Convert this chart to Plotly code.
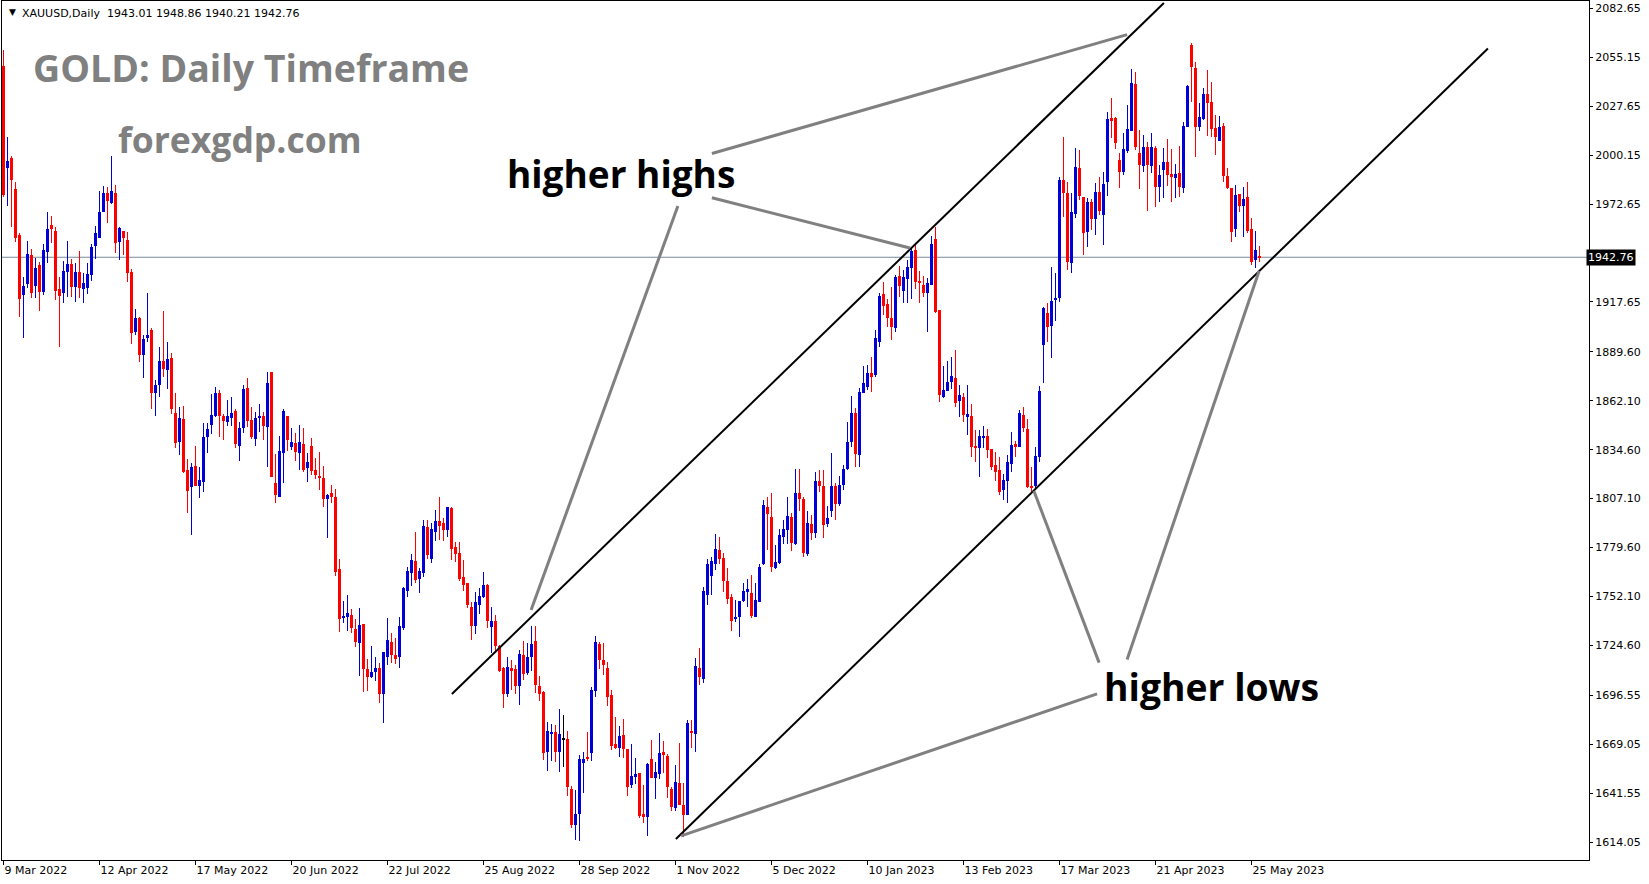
import plotly.graph_objects as go

# ---------------- data ----------------
tick_labels = ["9 Mar 2022", "12 Apr 2022", "17 May 2022", "20 Jun 2022", "22 Jul 2022",
               "25 Aug 2022", "28 Sep 2022", "1 Nov 2022", "5 Dec 2022", "10 Jan 2023",
               "13 Feb 2023", "17 Mar 2023", "21 Apr 2023", "25 May 2023"]
tick_index = [0, 24, 48, 72, 96, 120, 144, 168, 192, 216, 240, 264, 288, 312]

open_ = [2050.3, 1992.7, 1998.4, 1981.1, 1955.3, 1921.5, 1927.7, 1944.0, 1926.8, 1938.6,
         1923.0, 1945.9, 1960.7, 1957.3, 1924.7, 1922.5, 1934.7, 1939.0, 1925.9, 1934.7,
         1924.9, 1925.3, 1932.8, 1949.1, 1953.8, 1968.0, 1978.7, 1973.4, 1979.1, 1951.5,
         1957.3, 1952.5, 1934.7, 1900.9, 1908.4, 1887.8, 1897.2, 1901.9, 1866.3, 1871.0,
         1884.6, 1879.4, 1886.0, 1855.0, 1839.1, 1851.8, 1823.2, 1813.8, 1825.4, 1814.2,
         1816.6, 1841.9, 1848.5, 1853.5, 1866.6, 1853.5, 1850.2, 1852.2, 1856.3, 1836.7,
         1846.6, 1869.1, 1851.3, 1840.8, 1852.6, 1853.5, 1847.5, 1878.1, 1815.7, 1808.2,
         1833.0, 1853.5, 1836.3, 1838.5, 1832.9, 1837.8, 1824.1, 1836.7, 1823.2, 1819.8,
         1818.9, 1807.1, 1810.1, 1808.0, 1767.5, 1740.5, 1740.7, 1741.7, 1733.8, 1726.1,
         1736.6, 1711.1, 1707.0, 1709.8, 1711.7, 1697.1, 1718.3, 1726.3, 1719.2, 1717.9,
         1734.2, 1755.3, 1765.5, 1772.0, 1761.9, 1765.1, 1791.3, 1773.2, 1788.5, 1794.5,
         1793.6, 1789.5, 1801.6, 1779.7, 1776.7, 1763.2, 1759.8, 1746.3, 1735.5, 1747.3,
         1751.6, 1758.5, 1735.1, 1738.3, 1724.2, 1711.7, 1697.3, 1711.7, 1711.1, 1701.8,
         1719.2, 1708.9, 1718.3, 1727.0, 1701.7, 1698.5, 1664.8, 1674.6, 1676.1, 1664.8,
         1671.8, 1671.8, 1643.7, 1623.6, 1629.8, 1658.6, 1662.0, 1664.3, 1699.1, 1725.3,
         1716.4, 1711.7, 1696.7, 1669.1, 1666.7, 1674.2, 1666.1, 1646.1, 1650.8, 1653.0,
         1629.8, 1628.3, 1660.5, 1649.8, 1652.3, 1664.8, 1662.4, 1643.7, 1633.0, 1647.0,
         1634.9, 1629.5, 1676.1, 1674.5, 1711.7, 1705.7, 1752.9, 1763.6, 1770.4, 1778.2,
         1773.6, 1761.0, 1751.6, 1739.9, 1740.4, 1749.8, 1754.8, 1753.9, 1740.8, 1749.2,
         1770.4, 1802.6, 1797.0, 1767.9, 1770.7, 1785.7, 1789.5, 1797.0, 1781.6, 1810.0,
         1807.0, 1776.0, 1792.9, 1787.6, 1817.0, 1814.0, 1792.8, 1800.0, 1814.0, 1804.0,
         1815.0, 1824.0, 1839.0, 1855.0, 1831.6, 1866.3, 1870.0, 1877.9, 1876.6, 1895.3,
         1922.1, 1916.5, 1908.4, 1903.2, 1932.2, 1924.0, 1930.5, 1936.5, 1946.8, 1929.6,
         1927.2, 1922.5, 1927.2, 1952.8, 1913.1, 1864.4, 1867.8, 1872.8, 1874.7, 1862.1,
         1864.4, 1853.5, 1853.5, 1836.7, 1835.4, 1841.2, 1842.3, 1834.8, 1826.0, 1823.2,
         1811.9, 1817.2, 1826.6, 1837.8, 1836.3, 1854.1, 1846.0, 1814.2, 1814.2, 1830.7,
         1893.4, 1911.6, 1904.1, 1919.1, 1919.7, 1986.2, 1978.7, 1939.7, 1967.1, 1992.7,
         1976.8, 1957.1, 1974.0, 1964.1, 1979.6, 1966.5, 1985.2, 2020.9, 2020.9, 1997.4,
         1990.9, 2002.7, 2013.9, 2040.1, 2001.2, 1994.1, 2004.9, 1994.1, 2004.0, 1982.4,
         1991.8, 1996.5, 1989.6, 1987.1, 1989.9, 1981.5, 2015.8, 2062.1, 2048.9, 2015.8,
         2020.3, 2034.5, 2030.2, 2015.2, 2008.3, 2016.5, 1988.4, 1981.5, 1958.4, 1978.3,
         1971.6, 1976.4, 1958.4, 1941.2, 1943.01]

high = [2059.3, 2010.2, 1999.9, 1984.9, 1956.2, 1931.8, 1951.9, 1947.4, 1942.5, 1940.3,
        1950.2, 1968.0, 1966.0, 1960.0, 1931.5, 1940.8, 1951.9, 1941.6, 1939.3, 1946.3,
        1933.7, 1939.7, 1950.2, 1960.3, 1980.2, 1983.0, 1982.1, 1999.7, 1983.5, 1960.0,
        1957.7, 1957.1, 1936.2, 1913.7, 1909.4, 1899.1, 1922.5, 1902.8, 1873.8, 1892.5,
        1912.5, 1895.3, 1888.8, 1866.3, 1858.8, 1859.1, 1829.2, 1827.3, 1836.7, 1825.1,
        1849.8, 1849.8, 1865.9, 1870.0, 1868.1, 1854.7, 1862.5, 1864.0, 1857.3, 1850.3,
        1871.0, 1874.7, 1858.8, 1856.0, 1860.3, 1856.0, 1878.5, 1878.5, 1832.2, 1842.3,
        1857.3, 1853.5, 1846.6, 1843.8, 1848.5, 1846.6, 1832.9, 1841.0, 1829.8, 1833.5,
        1825.4, 1809.7, 1814.8, 1812.3, 1773.2, 1749.5, 1752.9, 1744.9, 1739.2, 1745.4,
        1736.6, 1716.7, 1724.2, 1718.3, 1714.5, 1721.1, 1739.8, 1731.4, 1728.6, 1740.7,
        1757.2, 1768.5, 1775.8, 1788.1, 1767.9, 1795.1, 1795.1, 1793.2, 1800.7, 1808.2,
        1796.0, 1802.6, 1802.6, 1782.9, 1782.9, 1772.6, 1759.8, 1749.2, 1754.8, 1756.7,
        1766.0, 1758.9, 1746.4, 1741.7, 1724.8, 1712.3, 1718.3, 1716.4, 1713.6, 1722.0,
        1727.0, 1725.7, 1735.3, 1735.5, 1707.4, 1698.9, 1681.7, 1680.2, 1679.8, 1688.8,
        1685.4, 1676.4, 1645.5, 1643.3, 1662.9, 1664.8, 1675.7, 1701.4, 1729.8, 1726.7,
        1726.1, 1715.4, 1699.5, 1684.5, 1679.3, 1683.0, 1666.1, 1669.1, 1661.1, 1653.0,
        1646.1, 1658.3, 1671.4, 1659.2, 1675.1, 1671.0, 1663.5, 1645.2, 1657.3, 1669.5,
        1647.1, 1682.6, 1682.6, 1717.4, 1723.0, 1757.3, 1773.0, 1774.5, 1787.2, 1785.7,
        1776.4, 1767.9, 1753.5, 1750.1, 1749.8, 1759.5, 1761.8, 1764.2, 1759.5, 1770.4,
        1806.5, 1808.0, 1810.0, 1781.0, 1790.0, 1795.1, 1808.0, 1798.9, 1824.0, 1824.0,
        1808.0, 1800.0, 1798.0, 1822.0, 1823.0, 1823.0, 1803.0, 1833.0, 1816.0, 1820.0,
        1826.0, 1850.0, 1865.0, 1858.0, 1869.0, 1881.6, 1882.2, 1886.5, 1901.9, 1922.5,
        1929.0, 1919.1, 1925.8, 1932.8, 1937.8, 1935.6, 1941.2, 1948.7, 1949.6, 1935.2,
        1932.2, 1930.9, 1954.7, 1959.9, 1913.1, 1881.6, 1884.6, 1886.9, 1890.6, 1870.9,
        1866.6, 1870.9, 1860.3, 1845.7, 1845.7, 1847.9, 1846.0, 1834.9, 1833.5, 1830.7,
        1820.9, 1831.6, 1844.7, 1839.7, 1856.9, 1858.8, 1851.6, 1825.1, 1835.9, 1870.4,
        1915.0, 1916.9, 1937.5, 1934.1, 1988.1, 2010.2, 1985.2, 1978.7, 2004.0, 2003.0,
        1976.8, 1975.9, 1975.3, 1984.3, 1988.1, 1990.9, 2024.6, 2032.1, 2021.8, 2001.2,
        2012.4, 2028.4, 2048.4, 2047.1, 2014.3, 2011.5, 2007.7, 2012.4, 2005.3, 1994.6,
        2004.0, 2009.0, 2003.4, 1995.2, 2005.3, 2019.0, 2039.6, 2063.0, 2052.7, 2029.3,
        2037.7, 2048.0, 2041.5, 2022.7, 2022.2, 2018.0, 1992.7, 1981.9, 1983.4, 1978.3,
        1982.4, 1985.2, 1964.6, 1957.7, 1948.86]

low = [1976.8, 1971.6, 1960.0, 1951.1, 1909.4, 1897.2, 1925.3, 1919.7, 1919.7, 1912.7,
       1921.5, 1939.3, 1950.6, 1918.7, 1892.1, 1917.2, 1920.6, 1920.6, 1917.4, 1919.7,
       1916.9, 1921.9, 1929.6, 1941.6, 1953.4, 1968.0, 1961.8, 1972.7, 1945.3, 1941.2,
       1944.0, 1929.0, 1894.0, 1899.1, 1884.1, 1874.7, 1895.3, 1857.3, 1853.5, 1864.4,
       1875.3, 1868.5, 1854.7, 1835.4, 1831.6, 1821.7, 1799.2, 1786.6, 1814.2, 1807.6,
       1811.0, 1832.5, 1843.4, 1852.8, 1841.9, 1840.0, 1847.9, 1847.9, 1835.4, 1828.4,
       1844.2, 1847.5, 1840.8, 1836.7, 1844.7, 1840.0, 1825.0, 1819.0, 1804.8, 1807.8,
       1815.7, 1833.9, 1834.4, 1828.4, 1823.2, 1822.2, 1816.6, 1820.4, 1817.9, 1812.0,
       1802.6, 1784.8, 1804.4, 1763.6, 1732.3, 1737.0, 1732.9, 1731.4, 1723.5, 1707.4,
       1698.2, 1699.1, 1706.1, 1704.8, 1692.4, 1681.2, 1713.6, 1714.5, 1714.1, 1711.7,
       1733.2, 1752.0, 1758.0, 1759.9, 1754.2, 1763.2, 1773.0, 1771.1, 1783.5, 1783.8,
       1783.5, 1785.3, 1772.6, 1771.6, 1761.0, 1755.3, 1745.8, 1727.6, 1731.0, 1742.2,
       1751.0, 1734.2, 1720.5, 1720.1, 1709.8, 1689.2, 1695.4, 1699.5, 1697.3, 1691.1,
       1705.0, 1708.0, 1710.0, 1697.6, 1693.5, 1660.1, 1654.1, 1659.8, 1659.2, 1653.6,
       1656.0, 1639.9, 1621.7, 1615.2, 1614.8, 1641.8, 1659.8, 1659.8, 1695.4, 1711.1,
       1707.9, 1690.5, 1665.8, 1666.1, 1661.6, 1661.1, 1639.9, 1644.2, 1646.6, 1627.4,
       1624.9, 1617.4, 1649.8, 1638.0, 1649.3, 1652.6, 1638.6, 1631.7, 1631.7, 1634.9,
       1617.1, 1629.2, 1667.0, 1664.9, 1702.4, 1703.7, 1747.3, 1752.9, 1767.0, 1770.4,
       1754.8, 1747.9, 1732.9, 1738.0, 1729.1, 1749.2, 1746.4, 1739.8, 1740.4, 1749.2,
       1769.8, 1778.2, 1766.0, 1767.4, 1770.4, 1781.6, 1781.6, 1777.9, 1781.0, 1800.0,
       1774.1, 1775.0, 1784.0, 1785.0, 1811.0, 1785.0, 1791.0, 1797.0, 1795.0, 1803.0,
       1812.0, 1823.0, 1836.0, 1825.0, 1825.0, 1866.3, 1868.1, 1867.2, 1875.6, 1892.1,
       1910.3, 1903.8, 1896.3, 1900.9, 1920.6, 1916.9, 1917.2, 1919.1, 1924.7, 1916.9,
       1920.6, 1900.9, 1927.2, 1911.3, 1861.6, 1863.5, 1867.8, 1868.5, 1858.8, 1852.8,
       1850.3, 1842.9, 1830.7, 1827.9, 1819.1, 1835.4, 1829.7, 1823.2, 1817.2, 1809.1,
       1806.3, 1804.4, 1822.2, 1830.7, 1835.9, 1844.7, 1812.9, 1810.4, 1811.9, 1827.9,
       1871.9, 1895.3, 1885.9, 1907.1, 1917.8, 1965.6, 1935.6, 1934.1, 1964.6, 1974.9,
       1944.0, 1948.7, 1958.1, 1955.3, 1966.5, 1949.6, 1977.2, 2009.6, 2003.4, 1981.5,
       1989.0, 2001.2, 2013.9, 2003.0, 1980.9, 1990.9, 1968.9, 1990.3, 1971.2, 1974.0,
       1975.9, 1982.8, 1974.0, 1975.9, 1976.8, 1978.7, 2015.8, 2030.2, 1999.3, 2013.9,
       2019.9, 2010.9, 2010.5, 2000.2, 2008.3, 1985.2, 1980.9, 1951.5, 1954.0, 1968.4,
       1954.0, 1956.6, 1938.4, 1936.5, 1940.21]

close = [1977.8, 1997.0, 1986.2, 1953.4, 1919.3, 1926.8, 1944.6, 1922.5, 1936.9, 1923.0,
         1946.8, 1958.5, 1958.5, 1923.8, 1921.2, 1935.2, 1939.2, 1925.9, 1934.7, 1925.3,
         1928.1, 1933.3, 1948.5, 1956.6, 1968.0, 1979.1, 1974.2, 1980.2, 1950.6, 1959.2,
         1953.4, 1933.7, 1900.0, 1908.4, 1887.8, 1896.8, 1899.1, 1866.3, 1871.0, 1884.6,
         1879.8, 1885.4, 1857.3, 1838.5, 1852.2, 1821.9, 1811.6, 1825.1, 1814.4, 1817.5,
         1841.9, 1846.0, 1854.1, 1866.6, 1853.5, 1850.9, 1853.5, 1855.4, 1837.8, 1846.6,
         1868.5, 1850.9, 1841.9, 1852.2, 1853.2, 1847.9, 1872.3, 1819.0, 1809.1, 1833.9,
         1856.5, 1840.0, 1839.1, 1833.5, 1839.1, 1823.2, 1827.9, 1822.8, 1820.4, 1818.5,
         1807.1, 1809.1, 1807.8, 1766.0, 1739.2, 1740.7, 1742.6, 1734.2, 1726.7, 1736.0,
         1711.1, 1707.0, 1709.4, 1711.7, 1697.1, 1720.7, 1727.6, 1719.2, 1717.0, 1735.5,
         1756.7, 1766.4, 1772.6, 1761.3, 1766.4, 1791.7, 1775.4, 1790.0, 1794.5, 1791.9,
         1789.5, 1802.2, 1778.6, 1776.0, 1761.9, 1758.5, 1747.3, 1735.5, 1749.2, 1752.4,
         1758.5, 1738.3, 1738.3, 1724.2, 1710.4, 1697.3, 1712.3, 1710.4, 1701.8, 1719.8,
         1708.7, 1718.3, 1725.4, 1702.5, 1697.2, 1664.3, 1676.4, 1676.1, 1664.8, 1674.8,
         1671.8, 1645.2, 1623.6, 1629.8, 1660.7, 1660.7, 1660.5, 1699.5, 1726.7, 1716.4,
         1713.5, 1695.4, 1668.0, 1666.7, 1673.6, 1666.1, 1644.8, 1651.2, 1652.3, 1628.7,
         1628.3, 1657.9, 1649.8, 1653.6, 1663.9, 1663.0, 1645.2, 1633.9, 1648.0, 1634.9,
         1629.5, 1680.8, 1675.5, 1713.0, 1707.0, 1755.4, 1770.4, 1772.2, 1778.6, 1773.0,
         1761.0, 1750.5, 1738.5, 1740.8, 1749.8, 1755.4, 1756.1, 1741.1, 1750.1, 1768.9,
         1803.5, 1798.5, 1768.9, 1771.7, 1786.7, 1789.9, 1797.4, 1782.0, 1810.0, 1807.0,
         1776.4, 1793.6, 1787.6, 1817.0, 1814.0, 1792.3, 1796.0, 1814.0, 1804.0, 1815.0,
         1824.0, 1839.0, 1855.0, 1832.0, 1867.2, 1871.9, 1877.9, 1875.6, 1897.2, 1921.0,
         1915.4, 1908.4, 1903.8, 1931.5, 1926.6, 1931.5, 1937.5, 1946.5, 1929.0, 1928.5,
         1922.9, 1928.5, 1950.2, 1912.2, 1865.3, 1868.1, 1872.8, 1876.0, 1861.0, 1865.3,
         1854.1, 1854.6, 1836.3, 1835.9, 1842.3, 1841.9, 1834.4, 1825.0, 1822.2, 1811.0,
         1817.5, 1827.9, 1837.2, 1835.9, 1855.0, 1846.6, 1813.4, 1813.4, 1831.1, 1867.8,
         1914.0, 1903.7, 1918.4, 1920.1, 1986.2, 1978.7, 1940.3, 1968.4, 1993.7, 1977.2,
         1956.2, 1974.0, 1964.1, 1979.6, 1968.9, 1983.9, 2020.5, 2019.9, 2007.2, 1990.9,
         2003.4, 2014.7, 2040.5, 2004.6, 1994.6, 2004.6, 1994.6, 2004.6, 1982.4, 1989.0,
         1996.5, 1989.0, 1987.7, 1989.6, 1982.4, 2016.5, 2039.0, 2049.5, 2015.8, 2021.4,
         2034.5, 2029.6, 2014.7, 2010.5, 2015.8, 1988.4, 1981.5, 1957.1, 1977.8, 1971.6,
         1975.3, 1957.7, 1940.3, 1946.8, 1942.76]

price_ticks = [2082.65, 2055.15, 2027.65, 2000.15, 1972.65, 1917.65, 1889.60, 1862.10,
               1834.60, 1807.10, 1779.60, 1752.10, 1724.60, 1696.55, 1669.05, 1641.55, 1614.05]
last_price = 1942.76
header_text = "XAUUSD,Daily  1943.01 1948.86 1940.21 1942.76"

# trend channel lines (bar index, price)
upper_channel = [(112.1, 1697.25), (290.1, 2085.7)]
lower_channel = [(168.1, 1615.75), (371.1, 2060.1)]
# grey pointer lines (bar index, price)
pointers = [
    [(177.1, 2001.1), (280.9, 2067.9)],
    [(177.1, 1976.2), (226.6, 1948.0)],
    [(168.6, 1971.6), (131.9, 1744.5)],
    [(273.9, 1714.9), (257.6, 1811.4)],
    [(280.9, 1716.7), (313.9, 1935.0)],
    [(273.4, 1697.3), (169.4, 1617.5)],
]

# ---------------- figure ----------------
n = len(open_)
idx = list(range(n))
UP, DOWN, FLAT = "#0000D8", "#FF0000", "#000000"
colors = [UP if c > o else (DOWN if c < o else FLAT) for o, c in zip(open_, close)]

fig = go.Figure()
# wicks
fig.add_trace(go.Bar(x=idx, base=low, y=[h - l for h, l in zip(high, low)],
                     width=0.25, marker=dict(color=colors, line=dict(width=0)),
                     hoverinfo="skip"))
# bodies
fig.add_trace(go.Bar(x=idx, base=[min(o, c) for o, c in zip(open_, close)],
                     y=[max(abs(c - o), 0.56) for o, c in zip(open_, close)],
                     width=0.75, marker=dict(color=colors, line=dict(width=0)),
                     hoverinfo="skip"))

L, T, W, H = 2, 1, 1587, 859
def px(x):
    return (x - L) / W
def py(y):
    return 1 - (y - T) / H

shapes = []
shapes.append(dict(type="line", xref="paper", yref="y", x0=0, x1=1, y0=last_price, y1=last_price,
                   line=dict(color="#7a8a9a", width=1), layer="below"))
for seg in (upper_channel, lower_channel):
    shapes.append(dict(type="line", xref="x", yref="y", x0=seg[0][0], y0=seg[0][1],
                       x1=seg[1][0], y1=seg[1][1], line=dict(color="black", width=2)))
for seg in pointers:
    shapes.append(dict(type="line", xref="x", yref="y", x0=seg[0][0], y0=seg[0][1],
                       x1=seg[1][0], y1=seg[1][1], line=dict(color="#808080", width=3)))

annotations = [
    dict(text="▼", x=px(7), y=py(12), xref="paper", yref="paper", xanchor="left", yanchor="middle",
         showarrow=False, font=dict(family="DejaVu Sans", size=9, color="black")),
    dict(text=header_text, x=px(20), y=py(13), xref="paper", yref="paper", xanchor="left",
         yanchor="middle", showarrow=False, font=dict(family="DejaVu Sans", size=11, color="black")),
    dict(text="<b>GOLD: Daily Timeframe</b>", x=px(31), y=py(67), xref="paper", yref="paper",
         xanchor="left", yanchor="middle", showarrow=False,
         font=dict(family="Open Sans", size=37.5, color="#808080")),
    dict(text="<b>forexgdp.com</b>", x=px(116), y=py(139), xref="paper", yref="paper",
         xanchor="left", yanchor="middle", showarrow=False,
         font=dict(family="Open Sans", size=35.5, color="#808080")),
    dict(text="<b>higher highs</b>", x=px(505), y=py(173), xref="paper", yref="paper",
         xanchor="left", yanchor="middle", showarrow=False,
         font=dict(family="Open Sans", size=37, color="black")),
    dict(text="<b>higher lows</b>", x=px(1102), y=py(686), xref="paper", yref="paper",
         xanchor="left", yanchor="middle", showarrow=False,
         font=dict(family="Open Sans", size=37.3, color="black")),
    dict(text="%.2f" % last_price, x=1, y=last_price, xref="paper", yref="y", xanchor="left",
         yanchor="middle", xshift=-3, showarrow=False, bgcolor="black", borderpad=1,
         font=dict(family="DejaVu Sans", size=11, color="white")),
]

fig.update_layout(
    width=1649, height=884,
    margin=dict(l=L, r=1649 - L - W, t=T, b=884 - T - H),
    plot_bgcolor="white", paper_bgcolor="white",
    showlegend=False, barmode="overlay", bargap=0,
    shapes=shapes, annotations=annotations,
    xaxis=dict(range=[-0.375, 396.375], tickvals=tick_index, ticktext=tick_labels,
               ticks="outside", ticklen=4, tickcolor="black", showline=True, linecolor="black",
               linewidth=1, mirror=True, showgrid=False, zeroline=False,
               ticklabelposition="outside right",
               tickfont=dict(family="DejaVu Sans", size=11, color="black")),
    yaxis=dict(side="right", range=[1603.95, 2086.81], tickvals=price_ticks,
               ticktext=["%.2f" % v for v in price_ticks], ticks="outside", ticklen=3,
               tickcolor="black", showline=True, linecolor="black", linewidth=1, mirror=True,
               showgrid=False, zeroline=False, automargin=False,
               tickfont=dict(family="DejaVu Sans", size=11, color="black")),
)

fig.write_html("out.html", config={"displayModeBar": False},
               post_script="document.body.style.margin='0';document.body.style.overflow='hidden';")
